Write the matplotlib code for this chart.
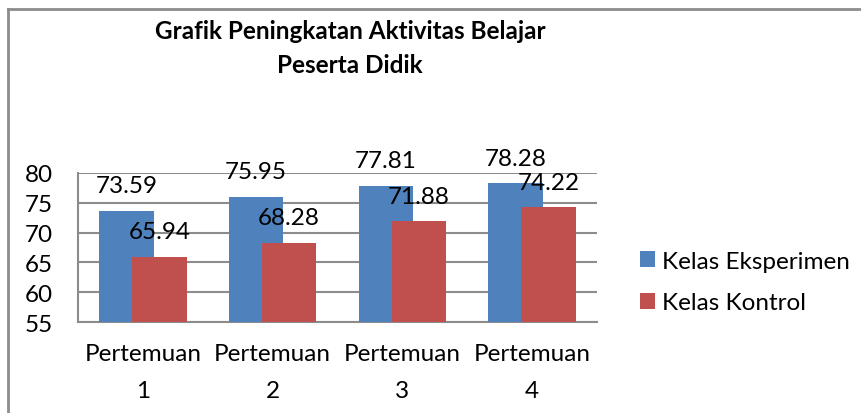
import numpy as np
import matplotlib
matplotlib.use("Agg")
from matplotlib import pyplot as plt
from matplotlib.lines import Line2D

plt.rcParams['font.family'] = ['Lato', 'DejaVu Sans']

categories = ["Pertemuan\n1", "Pertemuan\n2", "Pertemuan\n3", "Pertemuan\n4"]
eksperimen = [73.59, 75.95, 77.81, 78.28]
kontrol = [65.94, 68.28, 71.88, 74.22]
series_names = ["Kelas Eksperimen", "Kelas Kontrol"]
yticks = [55, 60, 65, 70, 75, 80]

blue = "#4F81BD"
red = "#C0504D"
grey = "#8C8C8C"
fs = 17.5

fig = plt.figure(figsize=(8.62, 4.14), dpi=100)
ax = fig.add_axes([78 / 862, 1 - 323 / 414, (597 - 78) / 862, (323 - 174) / 414])

x = np.arange(len(categories))
w = 0.42
off = 0.1275
b1 = ax.bar(x - off, eksperimen, w, bottom=0, color=blue, label=series_names[0], zorder=3)
b2 = ax.bar(x + off, kontrol, w, bottom=0, color=red, label=series_names[1], zorder=4)

for bars, vals in ((b1, eksperimen), (b2, kontrol)):
    for b, v in zip(bars, vals):
        ax.annotate(f"{v:.2f}", (b.get_x() + b.get_width() / 2, v),
                    xytext=(0, 13.5), textcoords="offset points",
                    ha="center", va="baseline", fontsize=fs, zorder=6)

ax.set_ylim(55, 80)
ax.set_xlim(-0.5, 3.5)
ax.set_yticks(yticks)
ax.set_xticks(x)
ax.set_xticklabels(categories, fontsize=fs, linespacing=1.95)
ax.tick_params(axis="y", length=0, pad=18, labelsize=fs)
ax.tick_params(axis="x", length=0, pad=15)
ax.yaxis.grid(True, color=grey, linewidth=1.5, zorder=0)
ax.set_axisbelow(True)
for s in ("top", "right"):
    ax.spines[s].set_visible(False)
for s in ("left", "bottom"):
    ax.spines[s].set_color(grey)
    ax.spines[s].set_linewidth(1.5)

fig.text(350 / 862, 1 - 48.5 / 414, "Grafik Peningkatan Aktivitas Belajar\nPeserta Didik",
         ha="center", va="center", fontsize=fs, fontweight="bold", linespacing=1.6)

fig.legend(handles=[b1, b2], labels=series_names, loc="center left",
           bbox_to_anchor=(640 / 862, 1 - 283 / 414), frameon=False,
           fontsize=fs, handlelength=0.62, handleheight=0.62, handletextpad=0.3,
           labelspacing=0.85, borderpad=0, borderaxespad=0)

# outer chart border (top and left only visible)
fig.add_artist(Line2D([8 / 862, 1], [1 - 9.5 / 414, 1 - 9.5 / 414], color=grey, linewidth=2))
fig.add_artist(Line2D([8.5 / 862, 8.5 / 862], [0, 1 - 9.5 / 414], color=grey, linewidth=2))

fig.savefig("out.png", dpi=100)
